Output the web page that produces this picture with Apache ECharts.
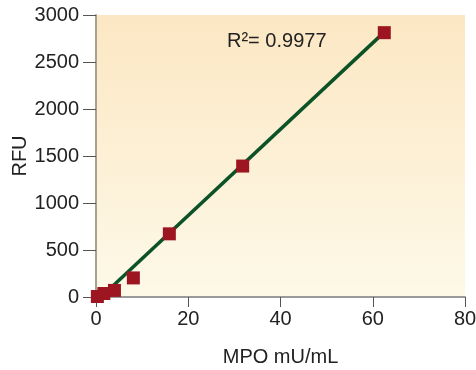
<!DOCTYPE html>
<html>
<head>
<meta charset="utf-8">
<script src="https://cdn.jsdelivr.net/npm/echarts@6/dist/echarts.min.js"></script>
<style>
  html, body { margin: 0; padding: 0; background: #fff; }
  #chart { width: 476px; height: 370px; }
</style>
</head>
<body>
<div id="chart"></div>
<script>
// standard curve points
var mpo = [0.3, 1.7, 4.0, 8.1, 15.9, 31.8, 62.5];
var rfu = [5, 37, 70, 203, 672, 1393, 2812];
// fitted line end points
var fitX = [1.1, 62.5];
var fitY = [0, 2818];
var xTicks = [0, 20, 40, 60, 80];
var yTicks = [0, 500, 1000, 1500, 2000, 2500, 3000];
var r2Text = 'R\u00b2= 0.9977';

var font = '"Liberation Sans", Arial, sans-serif';
var myChart = echarts.init(document.getElementById('chart'), null, { renderer: 'canvas' });

var points = mpo.map(function (x, i) { return [x, rfu[i]]; });
var fitLine = fitX.map(function (x, i) { return [x, fitY[i]]; });

var option = {
  animation: false,
  grid: {
    left: 96, right: 11, top: 15, bottom: 73,
    outerBoundsMode: 'none',
    containLabel: false,
    show: true,
    borderWidth: 0,
    backgroundColor: new echarts.graphic.LinearGradient(0, 0, 0, 1, [
      { offset: 0, color: '#fce7c3' },
      { offset: 1, color: '#fdf9e8' }
    ])
  },
  xAxis: {
    type: 'value',
    min: xTicks[0], max: xTicks[xTicks.length - 1], interval: 20,
    name: 'MPO mU/mL',
    nameLocation: 'middle',
    nameGap: 50,
    nameMoveOverlap: false,
    nameTextStyle: { fontFamily: font, fontSize: 20, color: '#222' },
    axisLine: { lineStyle: { color: '#9a9a9a', width: 2 } },
    axisTick: { length: 10, lineStyle: { color: '#555', width: 1 } },
    axisLabel: { margin: 12, fontFamily: font, fontSize: 20, color: '#222',
      formatter: function (v) { return String(v); } },
    splitLine: { show: false }
  },
  yAxis: {
    type: 'value',
    min: yTicks[0], max: yTicks[yTicks.length - 1], interval: 500,
    name: 'RFU',
    nameLocation: 'middle',
    nameGap: 66,
    nameMoveOverlap: false,
    nameTextStyle: { fontFamily: font, fontSize: 20, color: '#222' },
    axisLine: { show: true, lineStyle: { color: '#aaa091', width: 2 } },
    axisTick: { show: true, length: 13, lineStyle: { color: '#555', width: 1 } },
    axisLabel: { margin: 17, fontFamily: font, fontSize: 20, color: '#222',
      formatter: function (v) { return String(v); } },
    splitLine: { show: false }
  },
  graphic: [{
    type: 'text',
    left: 227,
    top: 31,
    style: { text: r2Text, font: '20px ' + font, fill: '#222' }
  }],
  series: [
    {
      type: 'line',
      data: fitLine,
      symbol: 'none',
      lineStyle: { color: '#0b5226', width: 3.5 },
      z: 2
    },
    {
      type: 'scatter',
      data: points,
      symbol: 'rect',
      symbolSize: 13,
      itemStyle: { color: '#9c1520', opacity: 1 },
      z: 3
    }
  ]
};

myChart.setOption(option);
</script>
</body>
</html>
